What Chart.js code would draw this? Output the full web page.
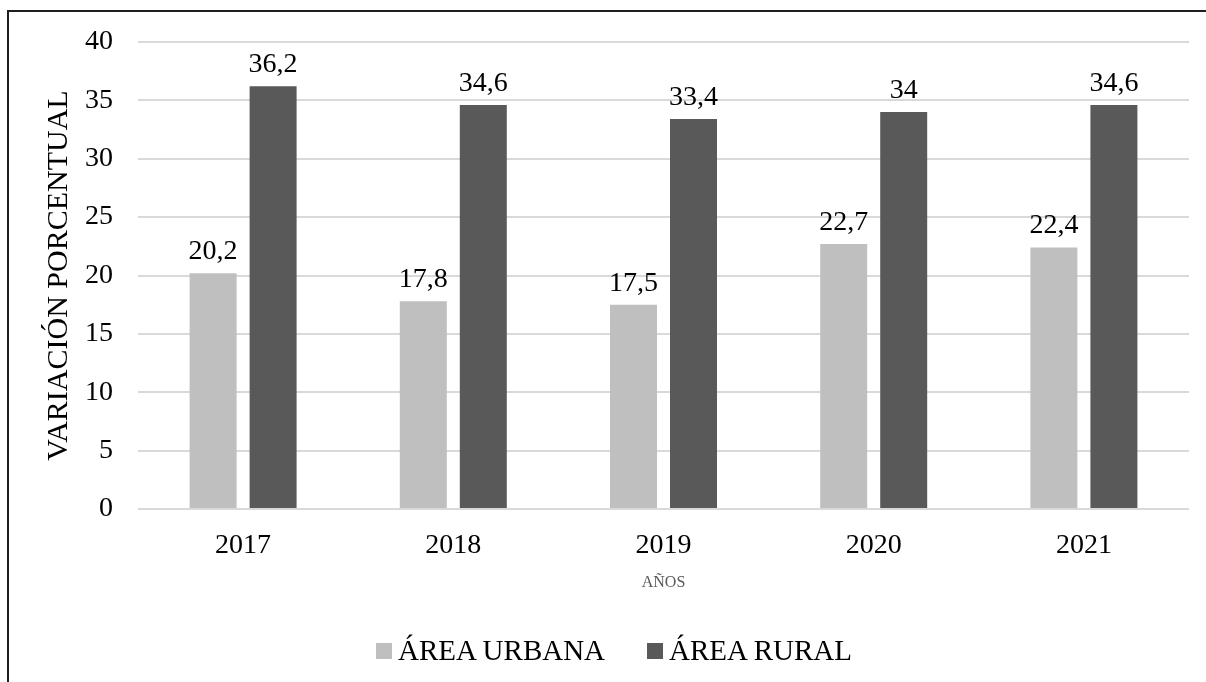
<!DOCTYPE html>
<html>
<head>
<meta charset="utf-8">
<title>Variación porcentual por área</title>
<script src="https://cdn.jsdelivr.net/npm/chart.js@4.4.1/dist/chart.umd.min.js"></script>
<style>
html, body { margin: 0; padding: 0; background: #fff; overflow: hidden; }
#wrap { position: relative; width: 1206px; height: 682px; overflow: hidden; }
#frame { position: absolute; left: 7px; top: 10px; width: 1230px; height: 720px;
         border-left: 2px solid #1e1e1e; border-top: 2px solid #1e1e1e; }
canvas { position: absolute; left: 0; top: 0; }
#legend { position: absolute; left: 376px; top: 634px; display: flex;
          font-family: "Liberation Serif", "Times New Roman", serif; font-size: 29px; color: #000; }
#legend .item { display: flex; align-items: center; margin-right: 42px; white-space: nowrap; }
#legend .box { width: 16px; height: 16px; margin-right: 6px; }
</style>
</head>
<body>
<div id="wrap">
  <div id="frame"></div>
  <canvas id="myChart" width="1206" height="682"></canvas>
  <div id="legend"></div>
</div>
<script>
// Data
const years = ["2017", "2018", "2019", "2020", "2021"];
const urbana = [20.2, 17.8, 17.5, 22.7, 22.4];
const rural = [36.2, 34.6, 33.4, 34, 34.6];
const seriesNames = ["ÁREA URBANA", "ÁREA RURAL"];
const seriesColors = ["#bfbfbf", "#595959"];

const serif = "'Liberation Serif', 'Times New Roman', serif";

// Value labels above each bar (comma as decimal separator)
const barLabels = {
    id: "barLabels",
    afterDatasetsDraw(chart) {
        const ctx = chart.ctx;
        ctx.save();
        ctx.font = "28px " + serif;
        ctx.fillStyle = "#000";
        ctx.textAlign = "center";
        ctx.textBaseline = "alphabetic";
        chart.data.datasets.forEach((ds, i) => {
            chart.getDatasetMeta(i).data.forEach((bar, j) => {
                ctx.fillText(String(ds.data[j]).replace(".", ","), bar.x, bar.y - 14);
            });
        });
        ctx.restore();
    }
};

const ctx = document.getElementById("myChart").getContext("2d");
const myChart = new Chart(ctx, {
    type: "bar",
    data: {
        labels: years,
        datasets: [
            { label: seriesNames[0], data: urbana, backgroundColor: seriesColors[0], borderWidth: 0 },
            { label: seriesNames[1], data: rural, backgroundColor: seriesColors[1], borderWidth: 0 }
        ]
    },
    options: {
        responsive: false,
        animation: false,
        devicePixelRatio: 1,
        categoryPercentage: 0.571,
        barPercentage: 0.783,
        layout: { padding: { top: 42, right: 17, bottom: 90, left: 0 } },
        plugins: {
            legend: { display: false },
            tooltip: { enabled: false }
        },
        scales: {
            x: {
                grid: { display: false },
                border: { display: false },
                ticks: { color: "#000", font: { family: serif, size: 28 }, padding: 12 },
                title: {
                    display: true, text: "AÑOS", color: "#595959",
                    font: { family: serif, size: 16 }, padding: { top: 0, bottom: 0 }
                },
                afterFit: (scale) => { scale.height = 83; }
            },
            y: {
                min: 0, max: 40,
                ticks: { stepSize: 5, color: "#000", font: { family: serif, size: 28 }, padding: 25 },
                grid: { color: "#d9d9d9", lineWidth: 2, drawTicks: false },
                border: { display: false },
                title: {
                    display: true, text: "VARIACIÓN PORCENTUAL", color: "#000",
                    font: { family: serif, size: 30 }, padding: { top: 41, bottom: 0 }
                },
                afterFit: (scale) => { scale.width = 138; }
            }
        }
    },
    plugins: [barLabels]
});

// Legend
const legendEl = document.getElementById("legend");
myChart.data.datasets.forEach((ds) => {
    const item = document.createElement("div");
    item.className = "item";
    item.innerHTML = `<span class="box" style="background:${ds.backgroundColor}"></span><span>${ds.label}</span>`;
    legendEl.appendChild(item);
});
</script>
</body>
</html>
